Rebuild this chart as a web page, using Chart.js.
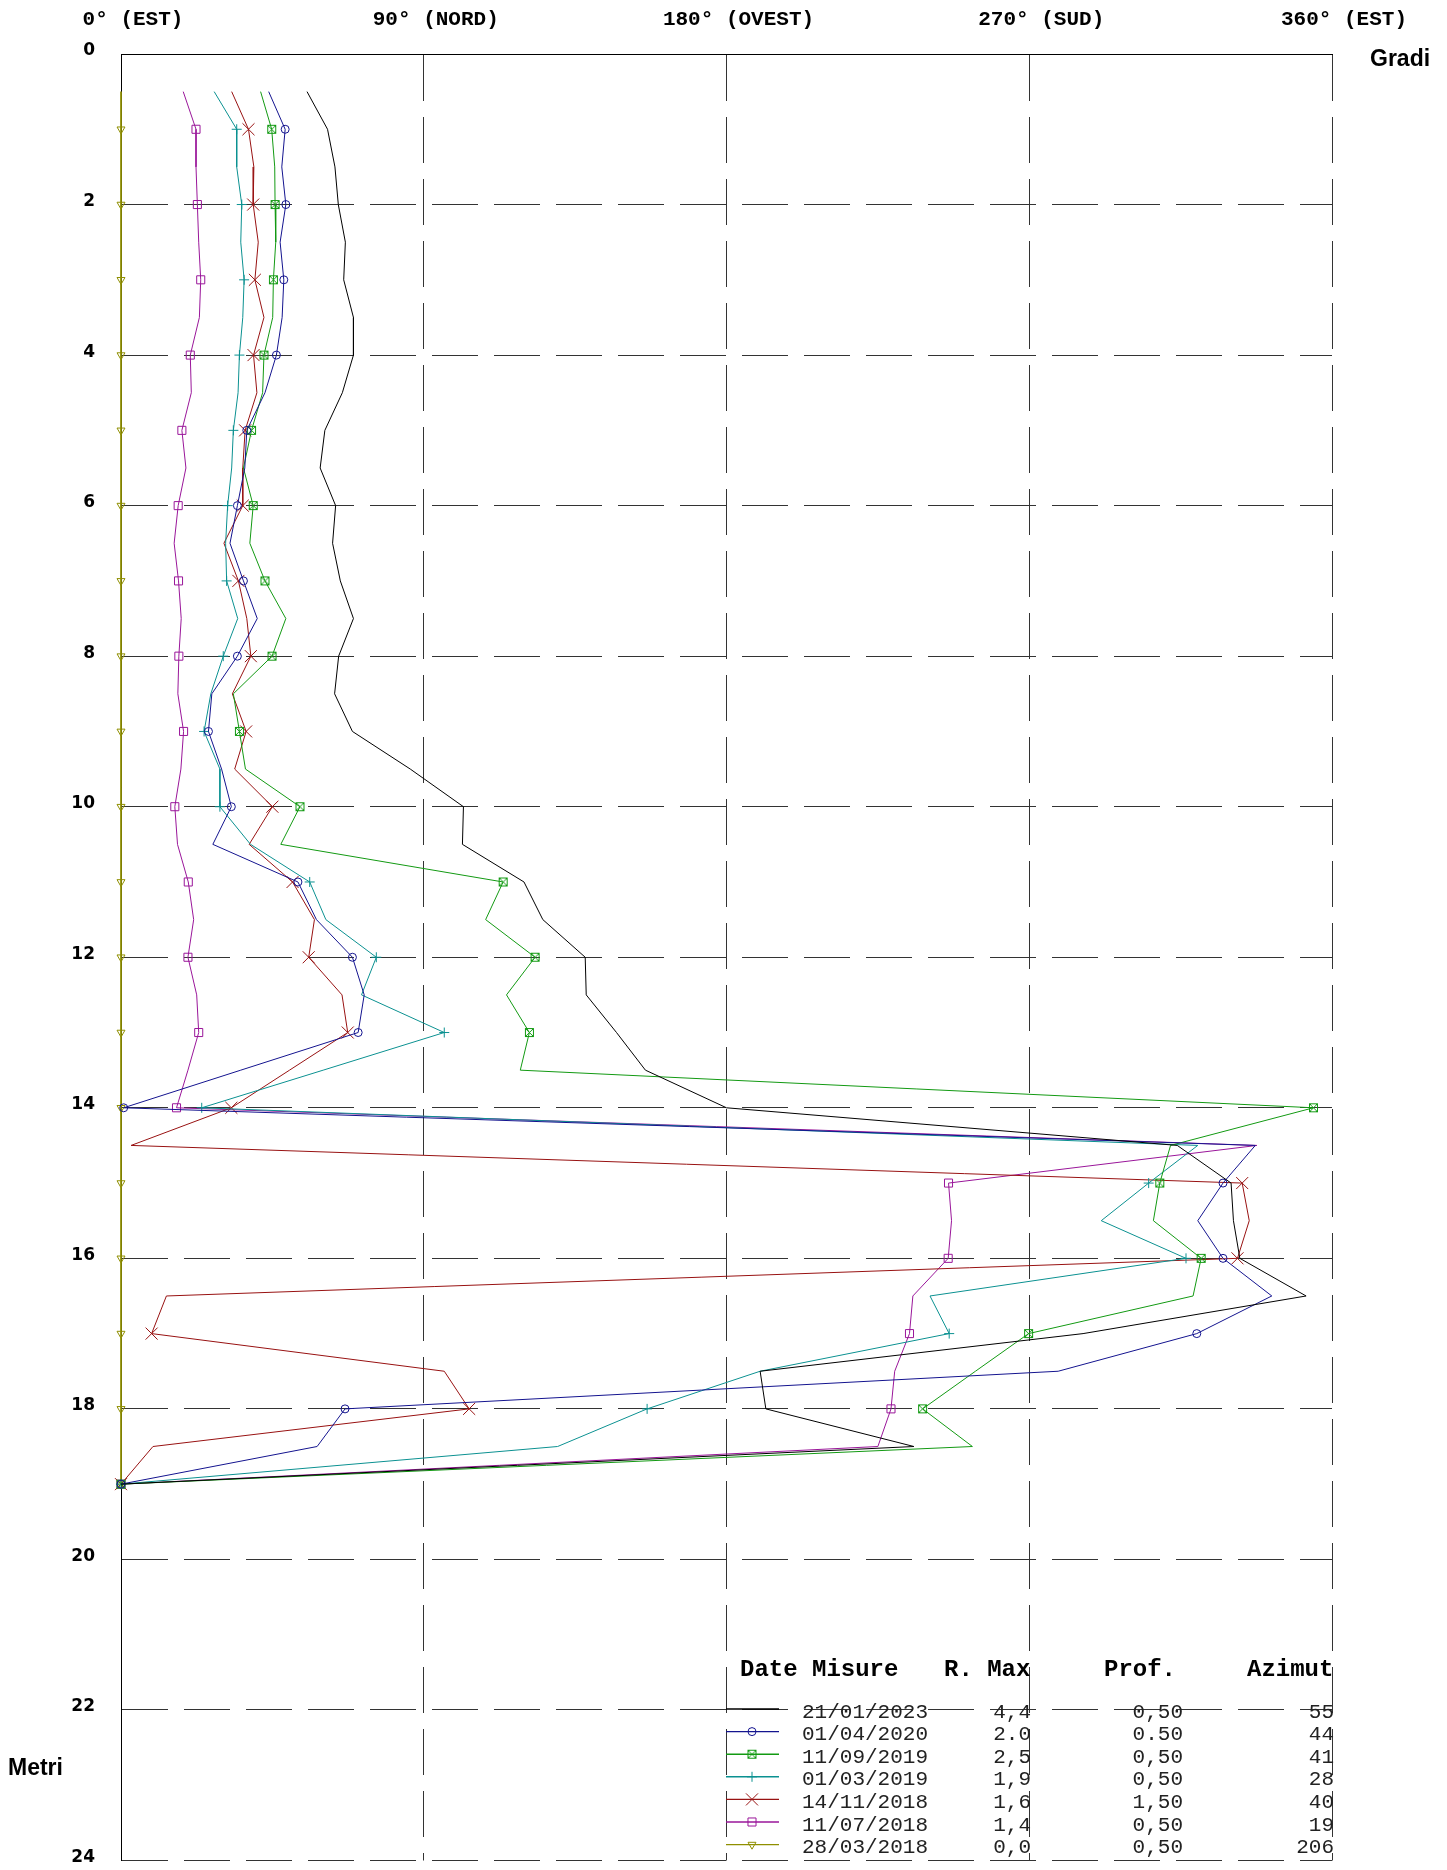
<!DOCTYPE html>
<html>
<head>
<meta charset="utf-8">
<script src="https://cdn.jsdelivr.net/npm/chart.js@4.4.1/dist/chart.umd.min.js"></script>
<style>
  html, body { margin: 0; padding: 0; background: #fff; }
  canvas { display: block; }
</style>
</head>
<body>
<canvas id="chart" width="1447" height="1870"></canvas>
<script>
// depth of each reading (metri)
const depths = [0.5, 1, 1.5, 2, 2.5, 3, 3.5, 4, 4.5, 5, 5.5, 6, 6.5, 7, 7.5, 8, 8.5, 9, 9.5, 10,
    10.5, 11, 11.5, 12, 12.5, 13, 13.5, 14, 14.5, 15, 15.5, 16, 16.5, 17, 17.5, 18, 18.5, 19];

// azimuth in degrees for each campaign, same order as depths
const az20230121 = [55.3, 61.4, 63.6, 64.6, 66.7, 66.2, 69.1, 69.1, 65.8, 60.6, 59.2, 63.8, 62.9, 65.2, 69.1, 64.7, 63.5, 68.8, 86.0, 101.8,
    101.5, 119.8, 125.4, 138.0, 138.3, 147.3, 155.9, 180.0, 314.0, 330.0, 330.7, 332.6, 352.3, 286.0, 190.0, 191.7, 235.7, 0];
const az20200401 = [43.9, 48.8, 47.8, 49.0, 47.3, 48.4, 47.9, 46.2, 42.8, 37.4, 36.8, 34.6, 32.4, 36.4, 40.5, 34.6, 27.0, 26.0, 29.9, 32.8,
    27.3, 52.6, 58.1, 68.8, 72.3, 70.5, 35.6, 0.8, 337.2, 327.6, 320.1, 327.6, 342.1, 319.8, 278.6, 66.6, 58.3, 0];
const az20190911 = [41.5, 44.8, 45.7, 45.8, 46.0, 45.3, 45.1, 42.5, 42.1, 38.8, 36.4, 39.3, 38.3, 42.8, 49.0, 44.9, 33.4, 35.2, 37.0, 53.2,
    47.5, 113.6, 108.4, 123.1, 114.6, 121.4, 118.7, 354.5, 312.0, 308.8, 306.9, 321.1, 318.7, 269.8, 254.0, 238.3, 253.1, 0];
const az20190301 = [27.7, 34.4, 34.4, 35.9, 35.6, 36.6, 36.2, 35.2, 34.8, 33.4, 32.9, 31.7, 31.1, 31.4, 34.7, 30.4, 26.7, 24.7, 29.4, 29.4,
    38.5, 56.1, 60.9, 75.9, 71.5, 96.1, 60.1, 24.0, 320.1, 305.5, 291.4, 316.6, 240.5, 246.2, 190.0, 156.4, 129.8, 0];
const az20181114 = [32.9, 37.9, 39.5, 39.3, 40.8, 39.8, 42.5, 39.4, 40.4, 36.9, 36.2, 36.2, 30.6, 34.9, 37.4, 38.6, 33.1, 37.2, 33.8, 45.0,
    38.1, 51.0, 57.5, 55.8, 65.7, 67.4, 50.1, 32.8, 3.0, 333.3, 335.4, 331.9, 13.5, 9.1, 96.1, 103.5, 9.5, 0];
const az20180711 = [18.5, 22.3, 22.3, 22.7, 23.1, 23.7, 23.3, 20.6, 20.9, 18.1, 19.3, 17.0, 15.8, 17.1, 17.9, 17.2, 16.9, 18.6, 17.8, 16.0,
    16.8, 20.0, 21.6, 19.9, 22.5, 23.1, 19.9, 16.5, 337.7, 246.0, 246.9, 245.9, 235.4, 234.4, 230.0, 228.9, 225.0, 0];
const az20180328 = [0, 0, 0, 0, 0, 0, 0, 0, 0, 0, 0, 0, 0, 0, 0, 0, 0, 0, 0, 0,
    0, 0, 0, 0, 0, 0, 0, 0, 0, 0, 0, 0, 0, 0, 0, 0, 0, 0];

// legend table
const legendDates = ['21/01/2023', '01/04/2020', '11/09/2019', '01/03/2019', '14/11/2018', '11/07/2018', '28/03/2018'];
const legendRMax = ['4,4', '2.0', '2,5', '1,9', '1,6', '1,4', '0,0'];
const legendProf = ['0,50', '0.50', '0,50', '0,50', '1,50', '0,50', '0,50'];
const legendAzimut = ['55', '44', '41', '28', '40', '19', '206'];

// axis ticks
const xTickValues = [0, 90, 180, 270, 360];
const xTickLabels = ['0° (EST)', '90° (NORD)', '180° (OVEST)', '270° (SUD)', '360° (EST)'];

// square with an x inside (no built-in style for it)
function boxedX(color) {
    const c = document.createElement('canvas');
    c.width = 11;
    c.height = 11;
    const g = c.getContext('2d');
    g.strokeStyle = color;
    g.lineWidth = 1;
    g.strokeRect(1.5, 1.5, 8, 8);
    g.beginPath();
    g.moveTo(1.5, 1.5); g.lineTo(9.5, 9.5);
    g.moveTo(9.5, 1.5); g.lineTo(1.5, 9.5);
    g.stroke();
    return c;
}

function series(values, color, style, radius, rotation) {
    return {
        data: depths.map((d, i) => ({ x: values[i], y: d })),
        borderColor: color,
        backgroundColor: 'rgba(0,0,0,0)',
        pointBorderColor: color,
        pointBackgroundColor: 'rgba(0,0,0,0)',
        borderWidth: 1,
        pointBorderWidth: 1,
        pointStyle: style,
        pointRotation: rotation || 0,
        // markers only on whole metres
        pointRadius: (ctx) => (ctx.raw && Number.isInteger(ctx.raw.y) ? radius : 0),
        pointHoverRadius: 0,
        showLine: true,
        tension: 0,
        clip: false
    };
}

const datasets = [
    series(az20230121, '#000000', 'circle', 0),
    series(az20200401, '#14148f', 'circle', 4),
    series(az20190911, '#139a13', boxedX('#139a13'), 5),
    series(az20190301, '#0b9191', 'cross', 5),
    series(az20181114, '#981212', 'crossRot', 8.5),
    series(az20180711, '#9a169a', 'rect', 5.7),
    series(az20180328, '#8f8f00', 'triangle', 4.6, 180)
];

// text outside the axes and the legend table
const extrasPlugin = {
    id: 'extras',
    afterDraw(chart) {
        const ctx = chart.ctx;
        ctx.save();
        ctx.fillStyle = '#000';
        ctx.font = 'bold 23px "Liberation Sans", Arial, sans-serif';
        ctx.textBaseline = 'middle';
        ctx.textAlign = 'left';
        ctx.fillText('Gradi', 1370, 60);
        ctx.fillText('Metri', 8, 1769);

        // header
        ctx.font = 'bold 24px "Liberation Mono", "Courier New", monospace';
        ctx.fillText('Date Misure', 740, 1670);
        ctx.fillText('R. Max', 944, 1670);
        ctx.fillText('Prof.', 1104, 1670);
        ctx.fillText('Azimut', 1247, 1670);

        ctx.font = '21px "Liberation Mono", "Courier New", monospace';
        const rowH = 22.6;
        chart.data.datasets.forEach((ds, i) => {
            const y = 1712 + i * rowH;
            ctx.fillStyle = '#222';
            ctx.textAlign = 'left';
            ctx.fillText(legendDates[i], 802, y);
            ctx.textAlign = 'right';
            ctx.fillText(legendRMax[i], 1031, y);
            ctx.fillText(legendProf[i], 1183, y);
            ctx.fillText(legendAzimut[i], 1334, y);

            const ly = y - 3;
            ctx.strokeStyle = ds.borderColor;
            ctx.lineWidth = 1.4;
            ctx.beginPath();
            ctx.moveTo(726, ly);
            ctx.lineTo(779, ly);
            ctx.stroke();
            const r = typeof ds.pointRadius === 'function' ? ds.pointRadius({ raw: { y: 1 } }) : ds.pointRadius;
            if (r > 0) {
                ctx.lineWidth = 1;
                ctx.fillStyle = 'rgba(0,0,0,0)';
                Chart.helpers.drawPoint(ctx, {
                    pointStyle: ds.pointStyle,
                    radius: r,
                    rotation: ds.pointRotation,
                    borderWidth: 1
                }, 752, ly);
            }
        });
        ctx.restore();
    }
};

new Chart(document.getElementById('chart'), {
    type: 'scatter',
    data: { datasets: datasets },
    plugins: [extrasPlugin],
    options: {
        responsive: false,
        animation: false,
        devicePixelRatio: 1,
        layout: { padding: { left: 0, right: 115, top: 0, bottom: 1 } },
        plugins: {
            legend: { display: false },
            tooltip: { enabled: false }
        },
        scales: {
            x: {
                type: 'linear',
                position: 'top',
                min: 0,
                max: 360,
                afterFit: (scale) => {
                    scale.height = 54;
                    scale.paddingLeft = 0;
                    scale.paddingRight = 0;
                },
                ticks: {
                    stepSize: 90,
                    autoSkip: false,
                    maxRotation: 0,
                    padding: 22,
                    labelOffset: 12,
                    color: '#000',
                    font: { family: '"Liberation Mono", "Courier New", monospace', size: 21, weight: 'bold' },
                    callback: (v) => {
                        const i = xTickValues.indexOf(v);
                        return i >= 0 ? xTickLabels[i] : '';
                    }
                },
                grid: { color: '#333', lineWidth: 1, drawTicks: false },
                border: { display: true, color: '#000', width: 1, dash: [46, 16] }
            },
            y: {
                type: 'linear',
                reverse: true,
                min: 0,
                max: 24,
                afterFit: (scale) => {
                    scale.width = 121;
                    scale.paddingTop = 0;
                    scale.paddingBottom = 0;
                },
                ticks: {
                    stepSize: 2,
                    padding: 26,
                    labelOffset: -3,
                    color: '#000',
                    font: { family: '"DejaVu Sans", Verdana, sans-serif', size: 17, weight: 'bold' }
                },
                grid: { color: '#333', lineWidth: 1, drawTicks: false },
                border: { display: true, color: '#000', width: 1, dash: [46, 16] }
            }
        }
    }
});
</script>
</body>
</html>
